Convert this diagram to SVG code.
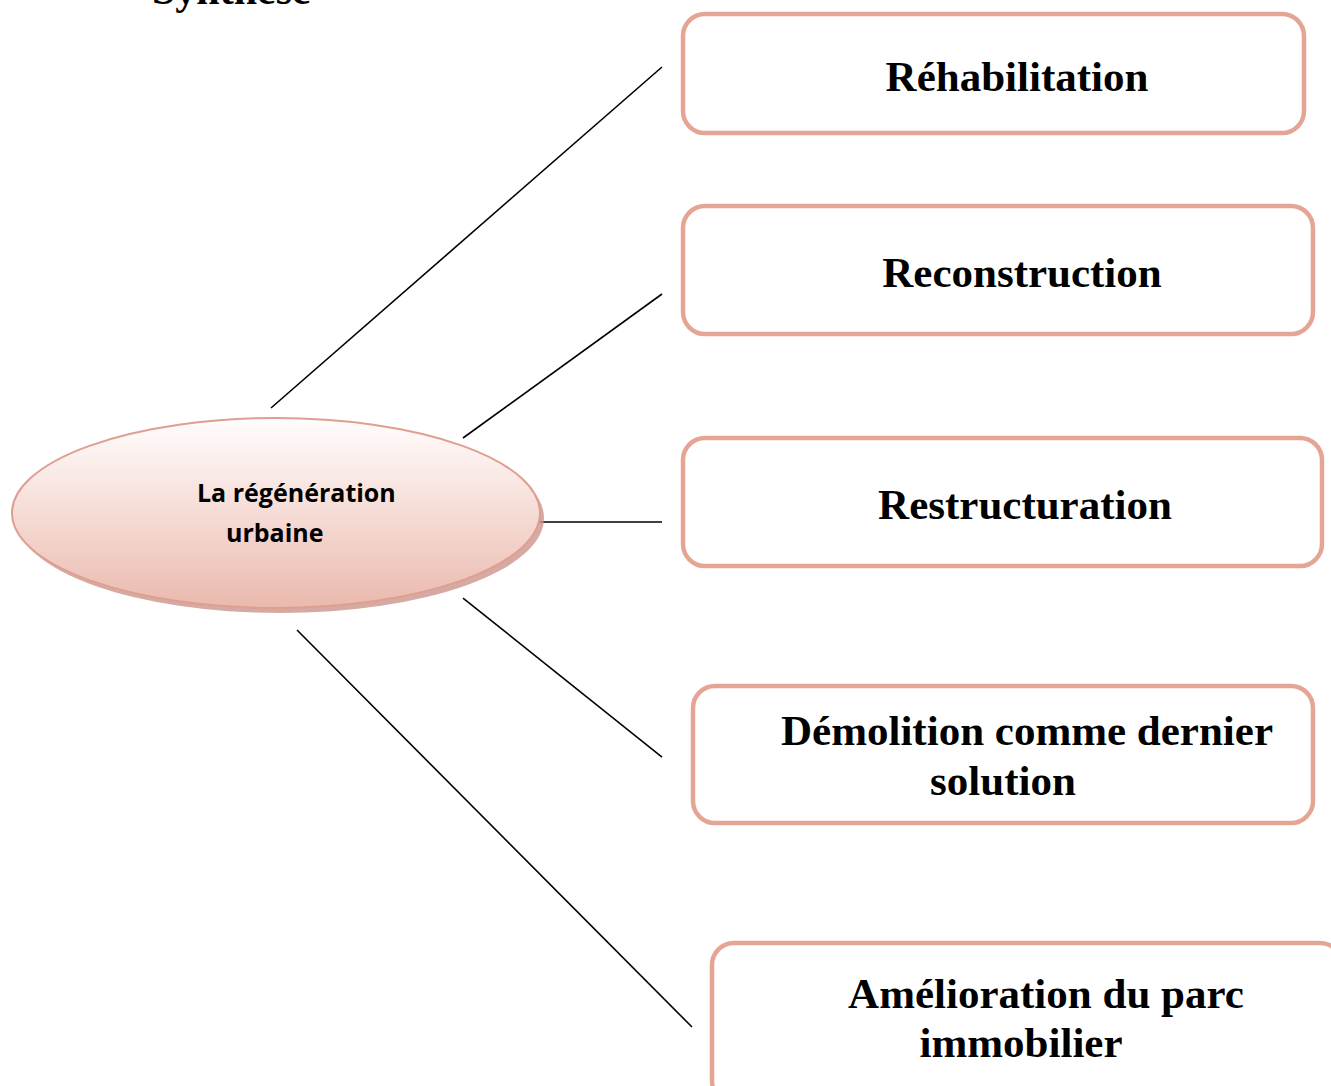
<svg xmlns="http://www.w3.org/2000/svg" width="1331" height="1086" viewBox="0 0 1331 1086">
<defs>
<linearGradient id="eg" x1="0" y1="0" x2="0" y2="1">
<stop offset="0" stop-color="#fffdfd"/>
<stop offset="0.5" stop-color="#f6dcd6"/>
<stop offset="1" stop-color="#eab9ae"/>
</linearGradient>
<style>
.box{fill:#fff;stroke:#e5a595;stroke-width:4.5}
.t{font-family:"Liberation Serif","Times New Roman",serif;font-weight:bold;font-size:43px;fill:#000;text-anchor:middle}
.c{stroke:#000;stroke-width:1.6;fill:none}
.e{font-family:"Open Sans","Liberation Sans",sans-serif;font-weight:bold;font-size:25px;fill:#000}
</style>
</defs>
<rect width="1331" height="1086" fill="#fff"/>
<text x="152" y="4" style="font-family:'Liberation Serif','Times New Roman',serif;font-weight:bold;font-size:42px">Synthèse</text>
<g id="connectors">
<line class="c" x1="271" y1="408" x2="662" y2="67"/>
<line class="c" x1="463" y1="438" x2="662" y2="294"/>
<line class="c" x1="540" y1="522" x2="662" y2="522"/>
<line class="c" x1="463" y1="598" x2="662" y2="757"/>
<line class="c" x1="297" y1="630" x2="692" y2="1027"/>
</g>
<g id="center">
<ellipse cx="280" cy="518" rx="264" ry="95" fill="#c9958b" opacity="0.8"/>
<ellipse cx="276" cy="513" rx="264" ry="95" fill="url(#eg)" stroke="#df9f90" stroke-width="2"/>
<text class="e" x="197" y="502">La régénération</text>
<text class="e" x="226" y="542">urbaine</text>
</g>
<g id="n1">
<rect class="box" x="683" y="14" width="621" height="119" rx="22"/>
<text class="t" x="1017" y="91">Réhabilitation</text>
</g>
<g id="n2">
<rect class="box" x="683" y="206" width="630" height="128" rx="22"/>
<text class="t" x="1022" y="287">Reconstruction</text>
</g>
<g id="n3">
<rect class="box" x="683" y="438" width="639" height="128" rx="22"/>
<text class="t" x="1025" y="519">Restructuration</text>
</g>
<g id="n4">
<rect class="box" x="693" y="686" width="620" height="137" rx="22"/>
<text class="t" x="1027" y="745">Démolition comme dernier</text>
<text class="t" x="1003" y="795">solution</text>
</g>
<g id="n5">
<rect class="box" x="712" y="943" width="630" height="160" rx="22"/>
<text class="t" x="1046" y="1008">Amélioration du parc</text>
<text class="t" x="1021" y="1057">immobilier</text>
</g>
</svg>
